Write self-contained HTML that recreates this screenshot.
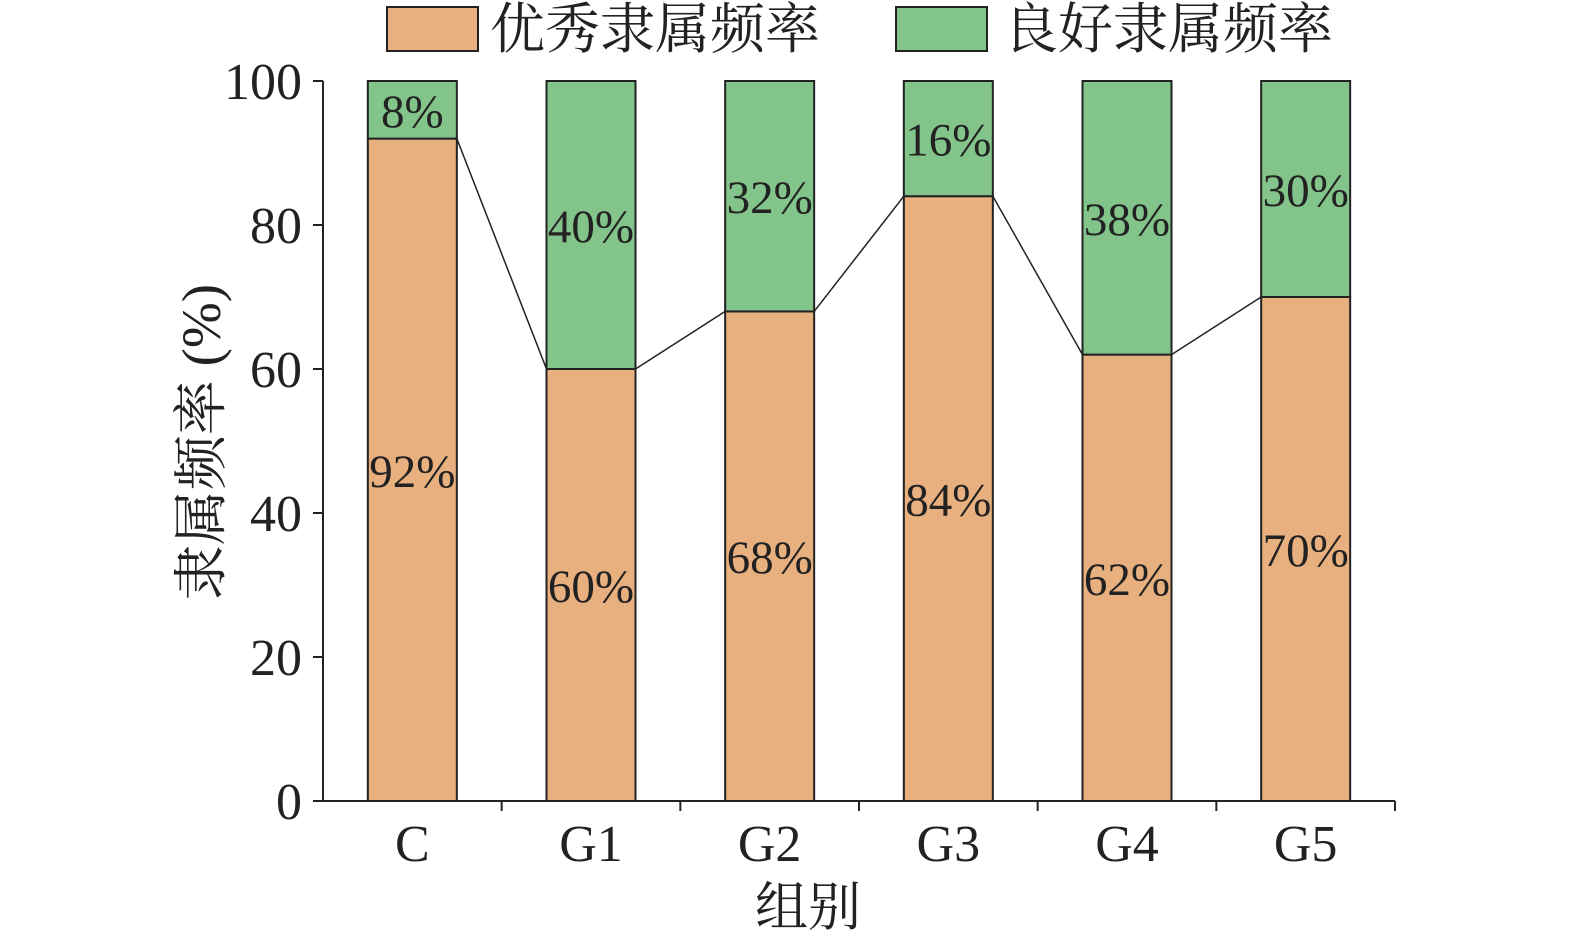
<!DOCTYPE html>
<html><head><meta charset="utf-8"><style>
body{margin:0;background:#fff}
svg text{font-family:"Liberation Serif","Noto Serif CJK SC",serif;fill:#222}
</style></head><body>
<svg width="1575" height="947" viewBox="0 0 1575 947" xmlns="http://www.w3.org/2000/svg" id="chart">
<g id="legend">
<rect x="387" y="7" width="91" height="44" fill="#e8b07e" stroke="#222" stroke-width="2"/>
<text x="490" y="48" font-size="55">优秀隶属频率</text>
<rect x="896" y="7" width="91" height="44" fill="#82c48a" stroke="#222" stroke-width="2"/>
<text x="1003" y="48" font-size="55">良好隶属频率</text>
</g>
<g id="plot"></g>
<text x="808" y="925" font-size="53" text-anchor="middle">组别</text>
<text transform="translate(220,442) rotate(-90)" font-size="55" text-anchor="middle">隶属频率 (%)</text>
</svg>
<script>
const categories=["C","G1","G2","G3","G4","G5"];
const excellent=[92,60,68,84,62,70];
const good=[8,40,32,16,38,30];
const yTicks=[0,20,40,60,80,100];
const NS="http://www.w3.org/2000/svg";
const g=document.getElementById('plot');
const x0=323,x1=1395,yBase=801,yTop=81,bw=89;
const band=(x1-x0)/categories.length;
const y=v=>yBase-(yBase-yTop)*v/100;
const cx=i=>x0+band*(i+0.5);
function mk(t,a){const e=document.createElementNS(NS,t);for(const k in a)e.setAttribute(k,a[k]);g.appendChild(e);return e;}
categories.forEach((c,i)=>{
 const l=cx(i)-bw/2;
 const r1=mk('rect',{x:l,y:y(excellent[i]),width:bw,height:y(0)-y(excellent[i]),fill:'#e8b07e',stroke:'#222','stroke-width':2});
 
 
 const top=excellent[i]+good[i];
 const r2=mk('rect',{x:l,y:y(top),width:bw,height:y(excellent[i])-y(top),fill:'#82c48a',stroke:'#222','stroke-width':2});
 
 
 const t1=mk('text',{x:cx(i),y:y(excellent[i]/2)+17,'font-size':47,'text-anchor':'middle'});
 t1.textContent=excellent[i]+'%';
 
 
 const t2=mk('text',{x:cx(i),y:y(excellent[i]+good[i]/2)+17,'font-size':47,'text-anchor':'middle'});
 t2.textContent=good[i]+'%';
 
 
 const xl=mk('text',{x:cx(i),y:861,'font-size':52,'text-anchor':'middle'});
 xl.textContent=c;
 
 
 const tk=mk('line',{x1:x0+band*(i+1),x2:x0+band*(i+1),y1:yBase,y2:yBase+10,stroke:'#222','stroke-width':2});
 
 
 if(i<categories.length-1){
  const ln=mk('line',{x1:cx(i)+bw/2,y1:y(excellent[i]),x2:cx(i+1)-bw/2,y2:y(excellent[i+1]),stroke:'#222','stroke-width':1.5});
  
  
 }
});
yTicks.forEach(v=>{
 const tk=mk('line',{x1:x0-10,x2:x0,y1:y(v),y2:y(v),stroke:'#222','stroke-width':2});
 
 
 const t=mk('text',{x:302,y:y(v)+18,'font-size':52,'text-anchor':'end'});
 t.textContent=v;
 
 
});
const ya=mk('line',{x1:x0,x2:x0,y1:yTop,y2:yBase,stroke:'#222','stroke-width':2});


const xa=mk('line',{x1:x0,x2:x1,y1:yBase,y2:yBase,stroke:'#222','stroke-width':2});


</script>
</body></html>
